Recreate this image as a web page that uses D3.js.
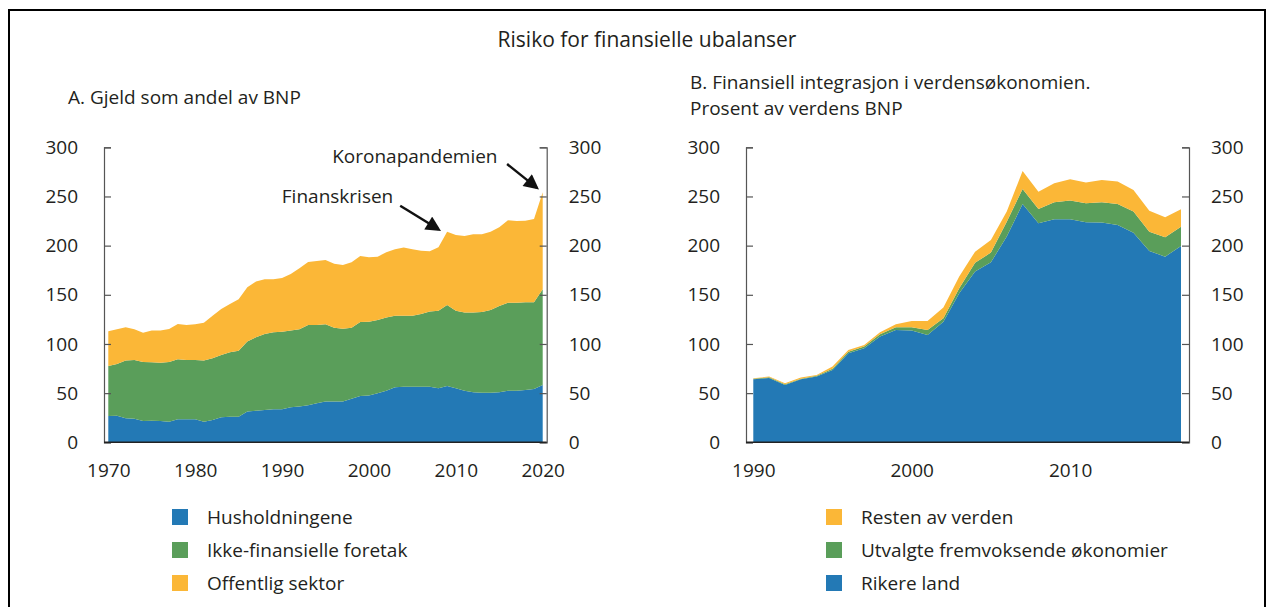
<!DOCTYPE html>
<html>
<head>
<meta charset="utf-8">
<script src="https://cdn.jsdelivr.net/npm/d3@7"></script>
<style>
  body { margin: 0; background: #fff; }
  svg text { font-family: "Open Sans", "Noto Sans", sans-serif; fill: #231f20; }
</style>
</head>
<body>
<svg id="chart" width="1273" height="607"></svg>
<script>
// ---- data ----
const yearsA = d3.range(1970, 2021);
const husholdningene = [26.8, 27, 24.4, 24, 21.7, 22, 21.7, 21, 23.4, 23.4, 23.4, 21, 22.7, 25.4, 26, 26, 31.2, 32.2, 32.9, 33.6,
  33.6, 35.6, 36.3, 37.6, 39.7, 41.4, 41.4, 41.4, 44.4, 47.1, 47.5, 49.8, 52.5, 55.9, 56.6, 56.6, 56.6, 56.6, 54.9, 57.3,
  54.9, 52.5, 50.9, 50.5, 50.5, 50.9, 52.5, 52.5, 53.2, 54.2, 58.3];
const ikkeFinansielle = [50.8, 52.7, 58.7, 59.7, 60, 59.4, 59.3, 60.7, 61, 60.3, 60.3, 62.1, 62.7, 63.4, 65.5, 67.2, 71.2, 74.6, 77.3, 78.3,
  78.9, 78, 78.6, 81.7, 79.6, 78.6, 75.2, 74.2, 72.2, 75.3, 75.2, 74.6, 74.3, 72.9, 72.2, 72.2, 73.9, 76.3, 79, 82.4,
  79, 79.4, 81, 82, 84.1, 87.8, 89.5, 89.5, 89.2, 88.2, 97.3];
const offentlig = [35.3, 35.2, 33.9, 31.2, 29.8, 32.2, 32.6, 33.6, 35.9, 35.6, 36.3, 38.6, 43.4, 46.8, 49.2, 52.2, 55.2, 56.6, 55.6, 53.9,
  54.6, 57.6, 62.1, 64.1, 65.1, 65.4, 65.1, 64.7, 66.4, 67.1, 65.4, 64.4, 66.4, 67.5, 69.2, 67.5, 64.4, 61.3, 64.4, 74.5,
  76.9, 77.9, 79.6, 79, 79.6, 79.9, 83.8, 83.1, 83, 84.7, 98.6];

const yearsB = d3.range(1990, 2018);
const rikereLand = [64.1, 65.4, 58.3, 64.1, 66.8, 73.6, 90.5, 95.6, 107.5, 114.2, 113.6, 109.2, 122.7, 151.5, 173.6, 183.1,
  209.2, 242.4, 222.7, 226.8, 226.8, 223.7, 223.4, 221, 213.2, 194.6, 188.8, 199.7];
const utvalgte = [0.6, 0.7, 0.7, 0.6, 1.0, 1.3, 1.7, 1.7, 2.3, 2.8, 3.4, 5.0, 3.4, 5.1, 9.1, 9.8,
  15.2, 15.2, 14.6, 17.3, 19.0, 19.4, 20.7, 21.4, 21.4, 19.6, 19.7, 19.6];
const restenAvVerden = [0.4, 0.7, 1.0, 1.1, 0.7, 2.1, 1.7, 1.7, 2.1, 3.0, 6.4, 9.2, 10.9, 11.9, 11.2, 12.9,
  10.2, 18.3, 17.6, 19.3, 21.7, 21.0, 22.7, 22.7, 22.0, 21.4, 20.3, 17.6];

const yTicks = [0, 50, 100, 150, 200, 250, 300];
const xTicksA = [1970, 1980, 1990, 2000, 2010, 2020];
const xTicksB = [1990, 2000, 2010];

const seriesA = [
  { key: "hus", label: "Husholdningene", color: "#2379b5", values: husholdningene },
  { key: "ikke", label: "Ikke-finansielle foretak", color: "#5a9e5a", values: ikkeFinansielle },
  { key: "off", label: "Offentlig sektor", color: "#fbb737", values: offentlig }
];
const seriesB = [
  { key: "rik", label: "Rikere land", color: "#2379b5", values: rikereLand },
  { key: "utv", label: "Utvalgte fremvoksende økonomier", color: "#5a9e5a", values: utvalgte },
  { key: "rest", label: "Resten av verden", color: "#fbb737", values: restenAvVerden }
];

// ---- drawing ----
const svg = d3.select("#chart");
const axisColor = "#555";
const fs = "19px";

// outer frame
svg.append("path")
  .attr("d", "M9,640V10H1265V640")
  .attr("fill", "none").attr("stroke", "#000").attr("stroke-width", 2);

svg.append("text")
  .attr("x", 647).attr("y", 47)
  .attr("text-anchor", "middle")
  .style("font-size", "21px")
  .text("Risiko for finansielle ubalanser");

const y = d3.scaleLinear().domain([0, 300]).range([442.3, 147.3]);

function drawPanel(opt) {
  const x = d3.scaleLinear().domain(opt.domain).range(opt.range);
  const rows = opt.years.map((yr, i) => {
    const r = { year: yr };
    opt.series.forEach(s => { r[s.key] = s.values[i]; });
    return r;
  });
  const stacked = d3.stack().keys(opt.series.map(s => s.key))(rows);
  const area = d3.area()
    .x(d => x(d.data.year))
    .y0(d => y(d[0]))
    .y1(d => y(d[1]));

  const g = svg.append("g");
  g.selectAll("path.area")
    .data(stacked)
    .join("path")
    .attr("class", "area")
    .attr("d", area)
    .attr("fill", (d, i) => opt.series[i].color);

  // y axes, ticks pointing inward
  const left = g.append("g")
    .attr("transform", `translate(${opt.frame[0]},0)`)
    .call(d3.axisLeft(y).tickValues(yTicks).tickSize(-7).tickSizeOuter(-7).tickPadding(26));
  const right = g.append("g")
    .attr("transform", `translate(${opt.frame[1]},0)`)
    .call(d3.axisRight(y).tickValues(yTicks).tickSize(-7).tickSizeOuter(-7).tickPadding(22));
  [left, right].forEach(a => {
    a.selectAll("path, line").attr("stroke", axisColor).attr("stroke-width", 1.2);
    a.selectAll("text").style("font-size", fs).attr("fill", "#231f20");
  });

  // bottom line
  g.append("line")
    .attr("x1", opt.frame[0]).attr("x2", opt.frame[1])
    .attr("y1", y(0)).attr("y2", y(0))
    .attr("stroke", "#222").attr("stroke-width", 1.5);

  const bottom = g.append("g")
    .attr("transform", `translate(0,${y(0)})`)
    .call(d3.axisBottom(x).tickValues(opt.xTicks).tickFormat(d3.format("d")).tickSize(0).tickPadding(21));
  bottom.select(".domain").remove();
  bottom.selectAll("text").style("font-size", fs).attr("fill", "#231f20");

  // legend
  const leg = g.append("g").attr("transform", `translate(${opt.legend[0]},${opt.legend[1]})`);
  opt.legendOrder.forEach((idx, j) => {
    const s = opt.series[idx];
    leg.append("rect")
      .attr("x", 0).attr("y", j * 33 - 8)
      .attr("width", 16).attr("height", 16)
      .attr("fill", s.color);
    leg.append("text")
      .attr("x", 35).attr("y", j * 33)
      .attr("dy", "0.35em")
      .style("font-size", fs)
      .text(s.label);
  });
  return x;
}

const xA = drawPanel({
  years: yearsA, series: seriesA, domain: [1970, 2020], range: [108.3, 542.7],
  frame: [104, 546.7], xTicks: xTicksA, legend: [172, 517], legendOrder: [0, 1, 2]
});
const xB = drawPanel({
  years: yearsB, series: seriesB, domain: [1990, 2017], range: [753.3, 1181],
  frame: [746, 1189], xTicks: xTicksB, legend: [826, 517], legendOrder: [2, 1, 0]
});

// panel subtitles
svg.append("text").attr("x", 68).attr("y", 104).style("font-size", fs)
  .text("A. Gjeld som andel av BNP");
svg.append("text").attr("x", 690).attr("y", 89).style("font-size", fs)
  .text("B.  Finansiell integrasjon i verdensøkonomien.");
svg.append("text").attr("x", 690).attr("y", 115).style("font-size", fs)
  .text("Prosent av verdens BNP");

// annotations with arrows
svg.append("defs").append("marker")
  .attr("id", "head")
  .attr("viewBox", "0 0 10 10")
  .attr("refX", 8).attr("refY", 5)
  .attr("markerWidth", 6.5).attr("markerHeight", 6)
  .attr("orient", "auto")
  .append("path").attr("d", "M0,0L10,5L0,10Z").attr("fill", "#111");

const notes = [
  { text: "Finanskrisen", tx: 2002.8, ty: 243, from: [2003.6, 240.6], to: [2008.0, 216.6] },
  { text: "Koronapandemien", tx: 2014.8, ty: 284, from: [2015.9, 283], to: [2019.3, 259] }
];
notes.forEach(n => {
  svg.append("text")
    .attr("x", xA(n.tx)).attr("y", y(n.ty))
    .attr("text-anchor", "end")
    .style("font-size", fs)
    .text(n.text);
  svg.append("line")
    .attr("x1", xA(n.from[0])).attr("y1", y(n.from[1]))
    .attr("x2", xA(n.to[0])).attr("y2", y(n.to[1]))
    .attr("stroke", "#111").attr("stroke-width", 2.5)
    .attr("marker-end", "url(#head)");
});
</script>
</body>
</html>
